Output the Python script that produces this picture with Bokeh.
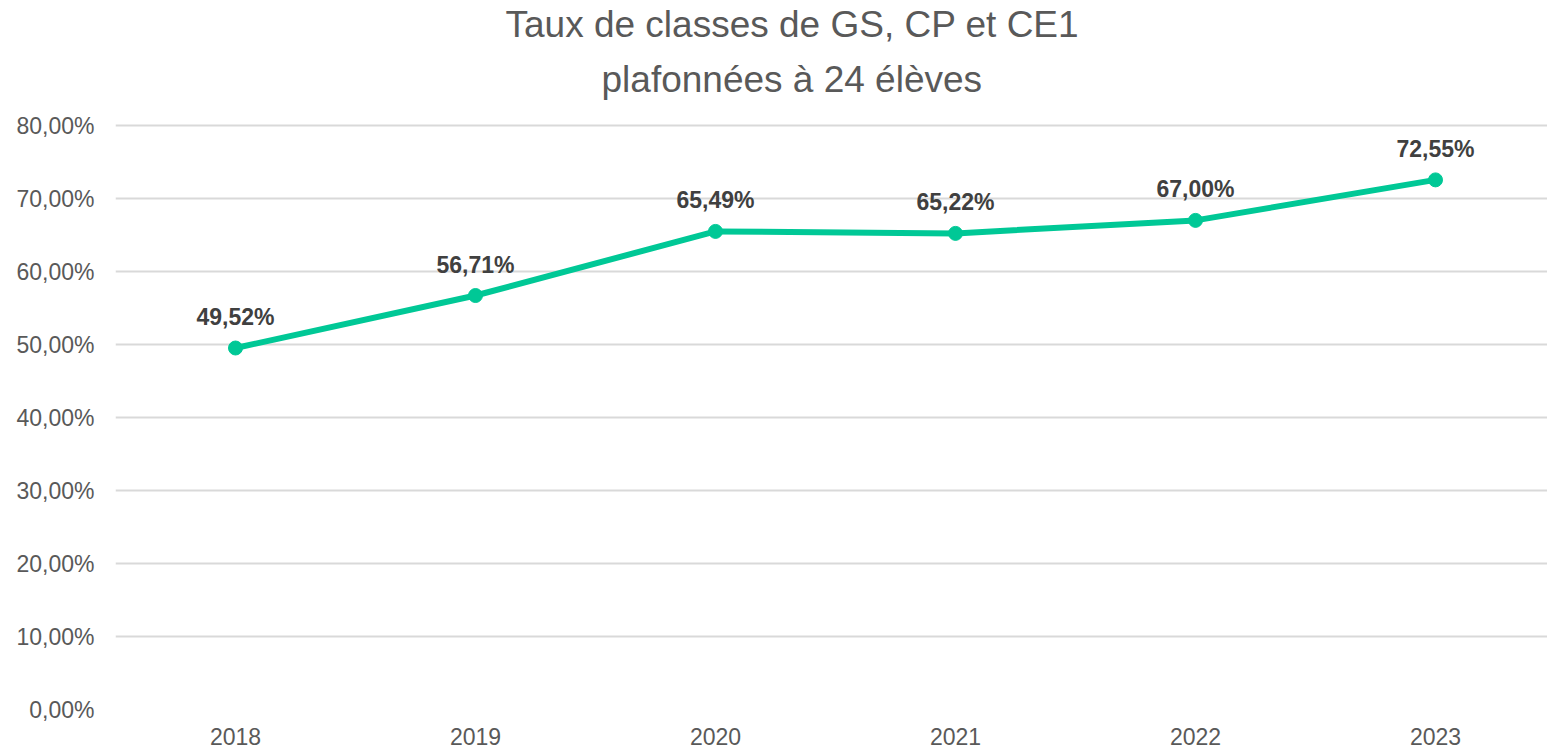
from bokeh.plotting import figure
from bokeh.models import Title, FixedTicker, ColumnDataSource, Range1d
from bokeh.core.properties import value
from bokeh.embed import file_html
from bokeh.resources import INLINE

years = [2018, 2019, 2020, 2021, 2022, 2023]
rates = [49.52, 56.71, 65.49, 65.22, 67.00, 72.55]
y_ticks = [0, 10, 20, 30, 40, 50, 60, 70, 80]
title_lines = ["Taux de classes de GS, CP et CE1", "plafonnées à 24 élèves"]

def fr_pct(v):
    return f"{v:.2f}%".replace(".", ",")

labels = [fr_pct(v) for v in rates]
src = ColumnDataSource(dict(x=years, y=rates, label=labels))

FONT = "Liberation Sans"
GREEN = "#00C896"

p = figure(width=1547, height=750, output_backend="svg", toolbar_location=None,
           x_range=Range1d(2017.5, 2017.5 + 1432 / 240),
           y_range=Range1d(0, (709 - 111) / 7.3),
           frame_width=1432, frame_height=598,
           min_border_left=115, min_border_right=0, min_border_top=111, min_border_bottom=41)
p.outline_line_color = None
p.background_fill_color = "white"
p.border_fill_color = "white"

# titles (second line added first so it sits nearest the plot)
t2 = Title(text=title_lines[1], align="left", text_font=FONT, text_font_size="37px",
           text_font_style="normal", text_color="#595959", offset=486, standoff=24)
t1 = Title(text=title_lines[0], align="left", text_font=FONT, text_font_size="37px",
           text_font_style="normal", text_color="#595959", offset=390, standoff=0)
p.add_layout(t2, "above")
p.add_layout(t1, "above")

p.xgrid.grid_line_color = None
p.ygrid.grid_line_color = "#D9D9D9"
p.ygrid.grid_line_width = 2
p.ygrid.ticker = FixedTicker(ticks=y_ticks)

p.yaxis.ticker = FixedTicker(ticks=y_ticks)
p.yaxis.major_label_overrides = {v: fr_pct(v) for v in y_ticks}
p.xaxis.ticker = FixedTicker(ticks=years)
p.xaxis.major_label_overrides = {y: str(y) for y in years}
for ax in (p.xaxis[0], p.yaxis[0]):
    ax.axis_line_color = None
    ax.major_tick_line_color = None
    ax.minor_tick_line_color = None
    ax.major_tick_out = 0
    ax.major_label_text_font = FONT
    ax.major_label_text_font_size = "23px"
    ax.major_label_text_color = "#595959"
p.yaxis.major_label_standoff = 21
p.xaxis.major_label_standoff = 18

p.line("x", "y", source=src, line_color=GREEN, line_width=6)
p.scatter("x", "y", source=src, size=14, fill_color=GREEN, line_color=GREEN)
p.text("x", "y", text="label", source=src, text_font=value(FONT), text_font_size="23px",
       text_font_style="bold", text_color="#404040", text_align="center",
       text_baseline="middle", y_offset=-31)

open("out.html", "w").write(file_html(p, INLINE))
